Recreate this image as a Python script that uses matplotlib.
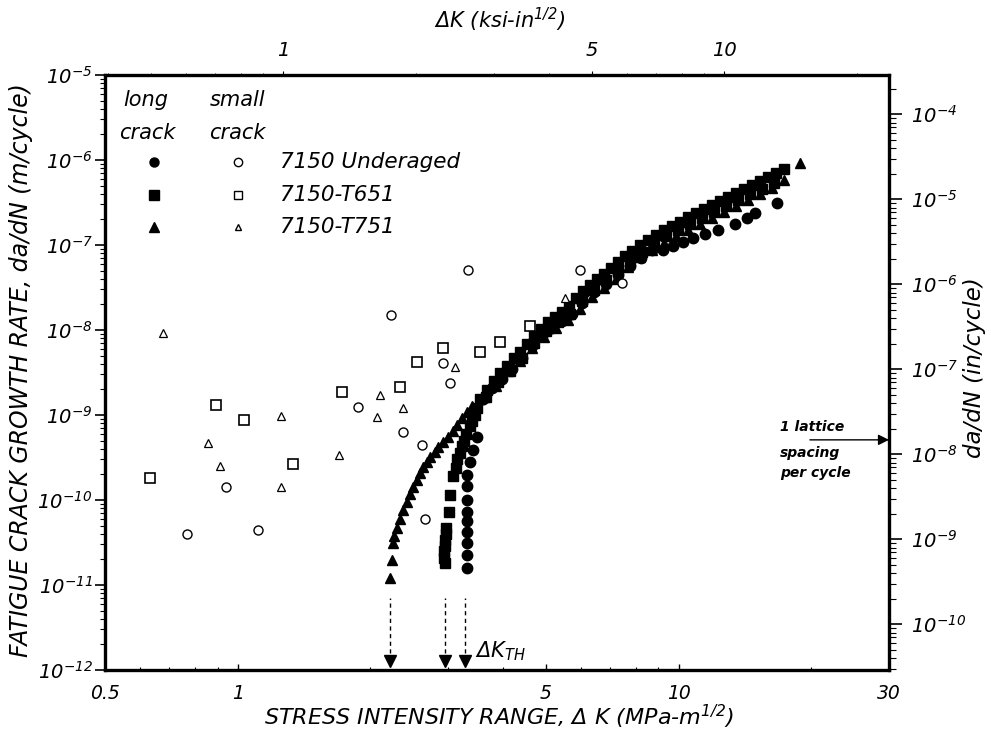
import math
import matplotlib
matplotlib.use("Agg")
import matplotlib.pyplot as plt
from matplotlib.ticker import FixedLocator, NullFormatter, LogLocator

plt.rcParams['font.family'] = ['DejaVu Sans']
plt.rcParams['font.style'] = 'oblique'
plt.rcParams['mathtext.fontset'] = 'dejavusans'
plt.rcParams['mathtext.default'] = 'it'

# ---------------- data ----------------
# long crack, 7150-T651 (filled squares)
t651_long_dk = [2.95, 2.94, 2.94, 2.95, 2.95, 2.96, 2.97, 3.02, 3.03, 3.07, 3.12, 3.15, 3.20, 3.22,
                3.26, 3.30, 3.36, 3.40, 3.45, 3.49,
                3.542, 3.674, 3.811, 3.932, 4.079, 4.231, 4.365, 4.528, 4.697, 4.872, 5.052, 5.241,
                5.436, 5.638, 5.848, 6.066, 6.292, 6.526, 6.770, 7.021, 7.283, 7.554, 7.836, 8.170,
                8.518, 8.882, 9.261, 9.654, 10.07, 10.49, 10.94, 11.41, 11.89, 12.40, 12.93, 13.49,
                14.06, 14.66, 15.28, 15.93, 16.62, 17.32,
                3.655, 3.892, 4.144, 4.411, 4.697, 5.001, 5.323, 5.667, 6.034, 6.425, 6.840, 7.283,
                7.754, 8.253, 8.789, 9.356, 9.961, 10.60, 11.29, 12.02, 12.80, 13.62, 14.51, 15.44,
                16.44]
t651_long_da = [1.8e-11, 2.1e-11, 2.5e-11, 2.9e-11, 3.4e-11, 4.0e-11, 4.7e-11, 7.2e-11, 1.15e-10,
                1.9e-10, 2.4e-10, 3.0e-10, 3.6e-10, 4.3e-10, 5.0e-10, 6.0e-10, 7.5e-10, 8.5e-10,
                1.0e-9, 1.2e-9,
                1.543e-9, 1.968e-9, 2.512e-9, 3.119e-9, 3.771e-9, 4.683e-9, 5.508e-9, 6.842e-9,
                8.50e-9, 1.027e-8, 1.242e-8, 1.422e-8, 1.628e-8, 1.916e-8, 2.38e-8, 2.876e-8,
                3.383e-8, 3.981e-8, 4.559e-8, 5.362e-8, 6.310e-8, 7.424e-8, 8.50e-8, 1.0e-7,
                1.145e-7, 1.311e-7, 1.501e-7, 1.673e-7, 1.865e-7, 2.135e-7, 2.38e-7, 2.653e-7,
                2.957e-7, 3.294e-7, 3.671e-7, 4.091e-7, 4.559e-7, 5.08e-7, 5.66e-7, 6.31e-7,
                7.03e-7, 7.83e-7,
                1.628e-9, 2.444e-9, 3.294e-9, 4.683e-9, 7.03e-9, 9.73e-9, 1.242e-8, 1.542e-8,
                2.194e-8, 2.955e-8, 3.877e-8, 5.08e-8, 6.48e-8, 8.27e-8, 1.027e-7, 1.276e-7,
                1.501e-7, 1.767e-7, 2.077e-7, 2.444e-7, 2.876e-7, 3.383e-7, 3.981e-7, 4.559e-7,
                5.362e-7]

# long crack, 7150-T751 (filled triangles)
t751_long_dk = [2.214, 2.237, 2.249, 2.261, 2.297, 2.333, 2.370, 2.420, 2.458, 2.497, 2.550, 2.590,
                2.631, 2.687, 2.729, 2.801, 2.845, 2.920, 2.998, 3.077, 3.142, 3.225, 3.310, 3.398,
                3.617, 3.851, 4.101, 4.365, 4.648, 4.949, 5.268, 5.609, 5.972, 6.358, 6.770, 7.207,
                7.673, 8.170, 8.698, 9.261, 9.857, 10.49, 11.17, 11.89, 12.66, 13.49, 14.36, 15.28,
                16.27, 17.32, 18.84]
t751_long_da = [1.209e-11, 1.968e-11, 3.119e-11, 3.771e-11, 4.683e-11, 5.976e-11, 7.627e-11,
                9.474e-11, 1.177e-10, 1.422e-10, 1.719e-10, 2.077e-10, 2.444e-10, 2.80e-10,
                3.20e-10, 3.671e-10, 4.20e-10, 4.81e-10, 5.51e-10, 6.48e-10, 7.63e-10, 9.22e-10,
                1.084e-9, 1.276e-9,
                1.628e-9, 2.194e-9, 3.294e-9, 4.318e-9, 6.14e-9, 8.27e-9, 1.056e-8, 1.311e-8,
                1.767e-8, 2.444e-8, 3.119e-8, 3.981e-8, 5.51e-8, 7.227e-8, 8.73e-8, 1.056e-7,
                1.276e-7, 1.501e-7, 1.767e-7, 2.077e-7, 2.444e-7, 2.876e-7, 3.383e-7, 3.981e-7,
                4.683e-7, 5.818e-7, 9.22e-7]

# long crack, 7150 Underaged (filled circles)
ua_long_dk = [3.31, 3.31, 3.31, 3.31, 3.31, 3.31, 3.31, 3.31, 3.31, 3.363, 3.416, 3.488,
              3.598, 3.771, 3.974, 4.187, 4.411, 4.648, 4.897, 5.159, 5.436, 5.727, 6.034, 6.425,
              6.840, 7.283, 7.754, 8.21, 8.698, 9.21, 9.704, 10.22, 10.77, 11.47, 12.27, 13.41,
              14.28, 14.89, 16.70]
ua_long_da = [1.585e-11, 2.254e-11, 3.119e-11, 4.20e-11, 5.66e-11, 7.227e-11, 1.0e-10, 1.46e-10,
              1.968e-10, 2.80e-10, 3.877e-10, 5.51e-10,
              1.542e-9, 2.079e-9, 2.653e-9, 3.476e-9, 4.681e-9, 6.484e-9, 8.50e-9, 1.056e-8,
              1.276e-8, 1.542e-8, 2.079e-8, 2.80e-8, 3.476e-8, 4.437e-8, 5.662e-8, 7.03e-8,
              8.73e-8, 8.73e-8, 9.73e-8, 1.084e-7, 1.209e-7, 1.347e-7, 1.501e-7, 1.767e-7,
              2.077e-7, 2.38e-7, 3.119e-7]

# small crack, open symbols
ua_small_dk = [3.327, 2.226, 0.767, 1.111, 0.940, 1.874, 2.370, 2.617, 2.658, 3.029, 2.920,
               5.972, 7.437]
ua_small_da = [5.08e-8, 1.5e-8, 3.98e-11, 4.44e-11, 1.42e-10, 1.24e-9, 6.31e-10, 4.44e-10,
               5.98e-11, 2.38e-9, 4.09e-9, 5.08e-8, 3.57e-8]

t651_small_dk = [0.633, 0.893, 1.033, 1.335, 1.723, 2.333, 2.550, 2.920, 3.542, 3.932, 4.599]
t651_small_da = [1.81e-10, 1.31e-9, 8.73e-10, 2.65e-10, 1.865e-9, 2.135e-9, 4.20e-9, 6.14e-9,
                 5.51e-9, 7.23e-9, 1.114e-8]

t751_small_dk = [0.677, 0.856, 0.911, 1.253, 1.253, 1.696, 2.069, 2.102, 2.370, 3.109, 5.522]
t751_small_da = [9.22e-9, 4.68e-10, 2.51e-10, 9.73e-10, 1.42e-10, 3.38e-10, 9.47e-10, 1.72e-9,
                 1.21e-9, 3.67e-9, 2.38e-8]

# threshold arrows (Delta K_TH)
dk_th = [2.21, 2.95, 3.28]

x_ticks = [0.5, 1, 5, 10, 30]
x_ticklabels = ['0.5', '1', '5', '10', '30']
y_ticks = [1e-12, 1e-11, 1e-10, 1e-9, 1e-8, 1e-7, 1e-6, 1e-5]
top_ticks = [1, 5, 10]
right_ticks = [1e-10, 1e-9, 1e-8, 1e-7, 1e-6, 1e-5, 1e-4]
lattice_da = 5.1e-10

W, H = 991, 737

# ---------------- figure ----------------
fig = plt.figure(figsize=(W / 100, H / 100), dpi=100)
ax = fig.add_axes([105 / W, 1 - 670 / H, 784 / W, 595 / H])
ax.set_xscale('log')
ax.set_yscale('log')
ax.set_xlim(0.5, 30)
ax.set_ylim(1e-12, 1e-5)

for s in ax.spines.values():
    s.set_linewidth(2.4)

# long crack (filled)
ax.plot(t751_long_dk, t751_long_da, '^', color='k', ms=7.8, mec='k', ls='none')
ax.plot(t651_long_dk, t651_long_da, 's', color='k', ms=7.0, mec='k', ls='none')
ax.plot(ua_long_dk, ua_long_da, 'o', color='k', ms=7.5, mec='k', ls='none')

# small crack (open)
ax.plot(ua_small_dk, ua_small_da, 'o', mfc='white', mec='k', mew=1.0, ms=6.5, ls='none')
ax.plot(t651_small_dk, t651_small_da, 's', mfc='white', mec='k', mew=1.2, ms=7, ls='none')
ax.plot(t751_small_dk, t751_small_da, '^', mfc='white', mec='k', mew=0.9, ms=5.5, ls='none')

# threshold arrows
for x in dk_th:
    ax.plot([x, x], [1.6e-12, 7e-12], ls=(0, (3, 2.5)), color='k', lw=1.0)
    ax.plot([x], [1.27e-12], marker='v', color='k', ms=8.5, ls='none', clip_on=False)
ax.text(3.45, 1.2e-12, r'$\Delta K_{TH}$', fontsize=15, ha='left', va='bottom')

# 1 lattice spacing arrow
ax.annotate('', xy=(30, lattice_da), xytext=(19.85, lattice_da),
            arrowprops=dict(arrowstyle='-|>', color='k', lw=1.0, mutation_scale=16,
                            shrinkA=0, shrinkB=0))
for txt, yy in [('1 lattice', 427), ('spacing', 453), ('per cycle', 473)]:
    fig.text(780 / W, 1 - yy / H, txt, fontsize=10, fontweight='bold',
             ha='left', va='center')

# ticks bottom / left
ax.xaxis.set_major_locator(FixedLocator(x_ticks))
ax.set_xticklabels(x_ticklabels)
ax.xaxis.set_minor_locator(LogLocator(base=10, subs=range(2, 10)))
ax.xaxis.set_minor_formatter(NullFormatter())
ax.tick_params(axis='x', which='major', direction='in', length=4, width=1, labelsize=13.5, pad=10)
ax.tick_params(axis='x', which='minor', direction='in', length=2.5, width=0.8)

ax.yaxis.set_major_locator(FixedLocator(y_ticks))
ax.set_yticklabels([r'$\mathit{10^{%d}}$' % round(math.log10(v)) for v in y_ticks])
ax.yaxis.set_minor_locator(LogLocator(base=10, subs=range(2, 10)))
ax.yaxis.set_minor_formatter(NullFormatter())
ax.tick_params(axis='y', which='major', direction='out', length=7, width=1.2, labelsize=14, pad=2)
ax.tick_params(axis='y', which='minor', direction='out', length=3.5, width=0.8)

# axis titles as figure texts
fig.text(499 / W, 1 - 717 / H, r'STRESS INTENSITY RANGE, $\Delta$ K (MPa-m$^{1/2}$)',
         fontsize=16, ha='center', va='center')
fig.text(21 / W, 1 - 370 / H, 'FATIGUE CRACK GROWTH RATE, da/dN (m/cycle)',
         fontsize=17, ha='center', va='center', rotation=90)
fig.text(975 / W, 1 - 368 / H, 'da/dN (in/cycle)',
         fontsize=16.5, ha='center', va='center', rotation=90)
fig.text(500 / W, 1 - 20 / H, r'$\Delta$K (ksi-in$^{1/2}$)',
         fontsize=15, ha='center', va='center')

# top axis (ksi-in^1/2)
top = ax.secondary_xaxis('top', functions=(lambda x: x / 1.27, lambda x: x * 1.27))
top.xaxis.set_major_locator(FixedLocator(top_ticks))
top.set_xticklabels([str(t) for t in top_ticks])
top.xaxis.set_minor_locator(LogLocator(base=10, subs=range(2, 10)))
top.xaxis.set_minor_formatter(NullFormatter())
top.tick_params(axis='x', which='major', direction='out', length=3, width=0.8, labelsize=14, pad=8)
top.tick_params(axis='x', which='minor', direction='out', length=1.5, width=0.6)

# right axis (in/cycle)
right = ax.secondary_yaxis('right', functions=(lambda y: y * 29.0, lambda y: y / 29.0))
right.yaxis.set_major_locator(FixedLocator(right_ticks))
right.set_yticklabels([r'$\mathit{10^{%d}}$' % round(math.log10(v)) for v in right_ticks])
right.yaxis.set_minor_locator(LogLocator(base=10, subs=range(2, 10)))
right.yaxis.set_minor_formatter(NullFormatter())
right.tick_params(axis='y', which='major', direction='out', length=9, width=1.2, labelsize=14, pad=7)
right.tick_params(axis='y', which='minor', direction='out', length=5, width=0.8)

# legend drawn by hand
T = ax.transAxes
def fx(px):
    return (px - 105) / 784
def fy(py):
    return (670 - py) / 595
ax.text(fx(146), fy(100), 'long', transform=T, fontsize=15, ha='center', va='center')
ax.text(fx(147), fy(133), 'crack', transform=T, fontsize=15, ha='center', va='center')
ax.text(fx(238), fy(100), 'small', transform=T, fontsize=15, ha='center', va='center')
ax.text(fx(237), fy(133), 'crack', transform=T, fontsize=15, ha='center', va='center')
rows = [('o', '7150 Underaged', 162), ('s', '7150-T651', 195), ('^', '7150-T751', 227)]
for mk, lab, py in rows:
    ax.plot([fx(154)], [fy(py)], marker=mk, color='k', ms=6.5, transform=T, ls='none')
    ax.plot([fx(238)], [fy(py)], marker=mk, mfc='white', mec='k', mew=1.0,
            ms=6 if mk != '^' else 5, transform=T, ls='none')
    ax.text(fx(280), fy(py), lab, transform=T, fontsize=15.5, ha='left', va='center')

fig.savefig('out.png', dpi=100)
